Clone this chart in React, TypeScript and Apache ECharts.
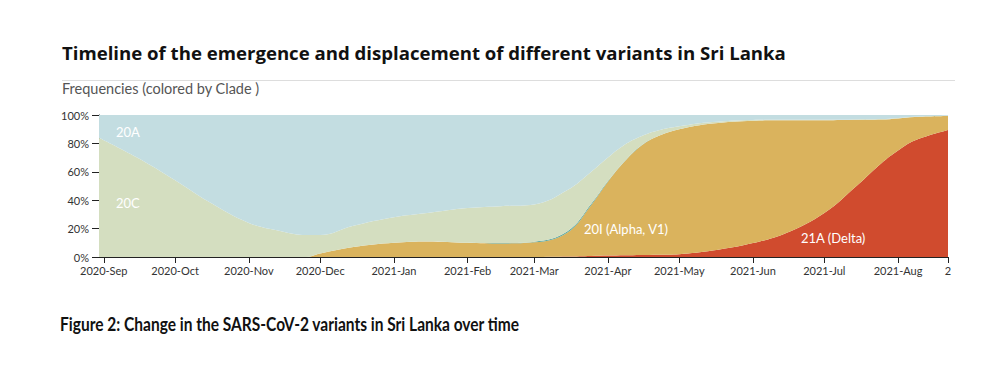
import React, { useEffect, useRef } from "react";
import * as echarts from "echarts";

// Sample dates (x values)
const dates = [
  "2020-08-30", "2020-09-15", "2020-10-01", "2020-10-15", "2020-11-01", "2020-11-15",
  "2020-11-25", "2020-12-01", "2020-12-15", "2021-01-01", "2021-01-15", "2021-02-01",
  "2021-02-15", "2021-03-01", "2021-03-15", "2021-03-25", "2021-04-01", "2021-04-08",
  "2021-04-15", "2021-04-22", "2021-05-01", "2021-05-15", "2021-06-01", "2021-06-15",
  "2021-07-01", "2021-07-15", "2021-07-25", "2021-08-01", "2021-08-08", "2021-08-22",
];

// Frequencies (%) per clade, stacked bottom -> top
const clade21A = [0, 0, 0, 0, 0, 0, 0, 0, 0, 0, 0, 0, 0, 0, 0.3, 0.7, 1, 1.2, 1.4, 1.6, 2, 4.5, 9.8, 16.9, 31, 50.7, 66, 75, 82, 89.4];
const clade20I = [0, 0, 0, 0, 0, 0, 0, 2.5, 7, 10, 11, 10, 9.5, 10.3, 17, 36, 52, 66, 77, 83.5, 88, 89.5, 86.2, 79.4, 65.3, 45.9, 30.8, 22.6, 16.6, 9.9];
const clade20B = [0, 0, 0, 0, 0, 0, 0, 0, 0, 0, 0, 0, 0.3, 0.5, 0.8, 0.8, 0.5, 0.3, 0.2, 0, 0, 0, 0, 0, 0, 0, 0, 0, 0, 0];
const clade20C = [84, 70, 54, 39, 24, 18, 15.5, 13, 15, 18, 20, 24.5, 26, 26.2, 29, 22.5, 16.5, 11.5, 6.4, 3.9, 2, 1, 0.5, 0.3, 0.3, 0.3, 0.3, 0.3, 0.2, 0.2];
const clade20A = [16, 30, 46, 61, 76, 82, 84.5, 84.5, 78, 72, 69, 65.5, 64.2, 63, 52.9, 40, 30, 21, 15, 11, 8, 5, 3.5, 3.4, 3.4, 3.1, 2.9, 2.1, 1.2, 0.5];

const cladeNames = ["21A (Delta)", "20I (Alpha, V1)", "20B", "20C", "20A"];
const cladeColors = ["#d04b2e", "#dab35d", "#5fa89e", "#d4dec0", "#c3dde1"];

// X axis ticks
const tickDates = [
  "2020-09-01", "2020-10-01", "2020-11-01", "2020-12-01", "2021-01-01", "2021-02-01",
  "2021-03-01", "2021-04-01", "2021-05-01", "2021-06-01", "2021-07-01", "2021-08-01", "2021-08-22",
];
const tickLabels = [
  "2020-Sep", "2020-Oct", "2020-Nov", "2020-Dec", "2021-Jan", "2021-Feb",
  "2021-Mar", "2021-Apr", "2021-May", "2021-Jun", "2021-Jul", "2021-Aug", "2",
];

const xMin = "2020-08-30";
const xMax = "2021-08-22";

const titleText = "Timeline of the emergence and displacement of different variants in Sri Lanka";
const subtitleText = "Frequencies (colored by Clade )";
const captionText = "Figure 2: Change in the SARS-CoV-2 variants in Sri Lanka over time";

const ts = (d: string) => +echarts.time.parse(d);

export default function App() {
  const ref = useRef<HTMLDivElement>(null);

  useEffect(() => {
    document.body.style.margin = "0";
    const el = ref.current;
    if (!el) return;
    const chart = echarts.init(el, null, { renderer: "svg" });

    const tickTs = tickDates.map(ts);
    const seriesData = [clade21A, clade20I, clade20B, clade20C, clade20A];

    const series = seriesData.map((vals, si) => ({
      name: cladeNames[si],
      type: "line",
      stack: "freq",
      xAxisIndex: 0,
      smooth: 0.4,
      symbol: "none",
      lineStyle: { width: 0 },
      areaStyle: { color: cladeColors[si], opacity: 1 },
      itemStyle: { color: cladeColors[si] },
      data: dates.map((d, i) => [ts(d), vals[i]]),
      silent: true,
    }));

    const labelFont = "Lato";
    const areaLabel = (text: string, x: number, y: number) => ({
      type: "text",
      x,
      y,
      z: 100,
      style: { text, fontFamily: labelFont, fontSize: 13, fill: "#ffffff", verticalAlign: "middle" },
    });

    chart.setOption({
      animation: false,
      backgroundColor: "#ffffff",
      grid: { left: 99, right: 52, top: 115, bottom: 108, containLabel: false },
      xAxis: [
        {
          type: "time",
          min: ts(xMin),
          max: ts(xMax),
          show: false,
        },
        {
          type: "value",
          min: ts(xMin),
          max: ts(xMax),
          position: "bottom",
          axisLine: { show: true, onZero: false, lineStyle: { color: "#222", width: 1 } },
          axisTick: { show: true, length: 6, lineStyle: { color: "#222" }, customValues: tickTs },
          axisLabel: {
            customValues: tickTs,
            margin: 8,
            fontFamily: labelFont,
            fontSize: 11,
            color: "#333",
            hideOverlap: false,
            formatter: (v: number) => {
              const i = tickTs.findIndex((t) => Math.abs(t - v) < 3600 * 1000);
              return i >= 0 ? tickLabels[i] : "";
            },
          },
          splitLine: { show: false },
        },
      ],
      yAxis: {
        type: "value",
        min: 0,
        max: 100,
        interval: 20,
        axisLine: { show: true, lineStyle: { color: "#222", width: 1 } },
        axisTick: { show: true, length: 7, lineStyle: { color: "#222" } },
        axisLabel: {
          formatter: "{value}%",
          margin: 10,
          fontFamily: labelFont,
          fontSize: 11,
          color: "#333",
        },
        splitLine: { show: false },
      },
      series,
      graphic: [
        {
          type: "text",
          x: 62,
          y: 52,
          style: { text: titleText, fontFamily: "Open Sans", fontWeight: "bold", fontSize: 18.6, fill: "#111", verticalAlign: "middle" },
        },
        {
          type: "line",
          shape: { x1: 62, y1: 80.5, x2: 955, y2: 80.5 },
          style: { stroke: "#dddddd", lineWidth: 1 },
        },
        {
          type: "text",
          x: 62,
          y: 88,
          style: { text: subtitleText, fontFamily: labelFont, fontSize: 14.5, fill: "#555", verticalAlign: "middle" },
        },
        areaLabel("20A", 116, 132),
        areaLabel("20C", 116, 203),
        areaLabel("20I (Alpha, V1)", 584, 229),
        areaLabel("21A (Delta)", 801, 238),
        {
          type: "text",
          x: 60,
          y: 324,
          scaleX: 0.862,
          style: { text: captionText, fontFamily: "Lato", fontWeight: "bold", fontSize: 18, fill: "#111", verticalAlign: "middle" },
        },
      ],
    });

    return () => {
      chart.dispose();
    };
  }, []);

  return <div ref={ref} style={{ width: 1000, height: 365 }} />;
}
